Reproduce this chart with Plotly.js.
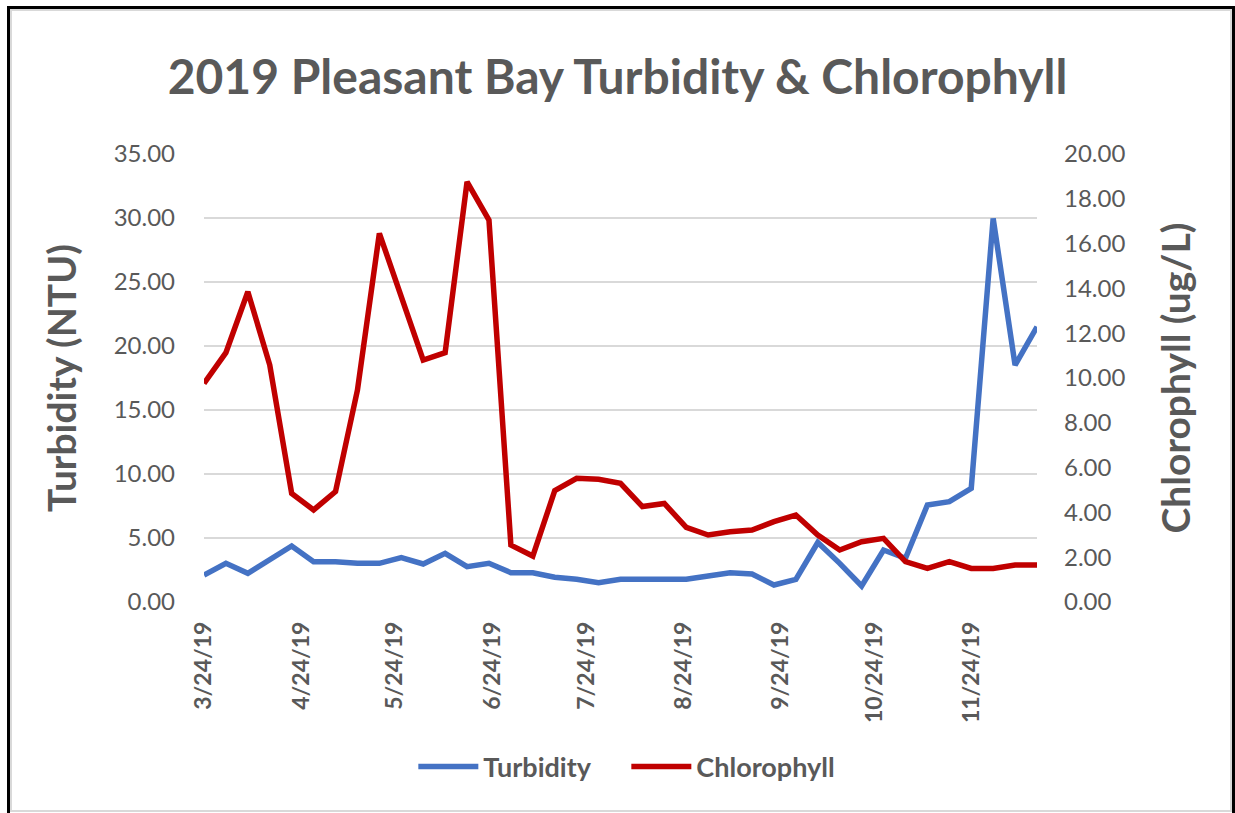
<!DOCTYPE html>
<html>
<head>
<meta charset="utf-8">
<script src="https://cdn.plot.ly/plotly-3.0.1.min.js"></script>
<style>
  html, body { margin: 0; padding: 0; background: #fff; }
  #chart { position: absolute; left: 0; top: 0; width: 1235px; height: 813px; }
  #frame { position: absolute; left: 7px; top: 6px; width: 1228px; height: 810px;
           border-left: 3px solid #000; border-top: 3px solid #000; border-right: 3px solid #000;
           box-sizing: border-box; pointer-events: none; }
  #inner { position: absolute; left: 10px; top: 9px; width: 1222px; height: 803px;
           border: 2px solid #d9d9d9; box-sizing: border-box; pointer-events: none; }
</style>
</head>
<body>
<div id="chart"></div>
<div id="inner"></div>
<div id="frame"></div>
<script>
// Weekly sampling dates, 3/24/19 through 12/15/19
const dates = [
  '2019-03-24','2019-03-31','2019-04-07','2019-04-14','2019-04-21','2019-04-28',
  '2019-05-05','2019-05-12','2019-05-19','2019-05-26','2019-06-02','2019-06-09',
  '2019-06-16','2019-06-23','2019-06-30','2019-07-07','2019-07-14','2019-07-21',
  '2019-07-28','2019-08-04','2019-08-11','2019-08-18','2019-08-25','2019-09-01',
  '2019-09-08','2019-09-15','2019-09-22','2019-09-29','2019-10-06','2019-10-13',
  '2019-10-20','2019-10-27','2019-11-03','2019-11-10','2019-11-17','2019-11-24',
  '2019-12-01','2019-12-08','2019-12-15'
];

// Turbidity (NTU), left axis
const turbidity = [
  2.11, 3.02, 2.24, 3.28, 4.38, 3.15,
  3.15, 3.02, 3.02, 3.46, 2.97, 3.80,
  2.76, 3.02, 2.29, 2.29, 1.93, 1.77,
  1.51, 1.77, 1.77, 1.77, 1.77, 2.03,
  2.29, 2.19, 1.33, 1.77, 4.65, 3.02,
  1.25, 4.06, 3.41, 7.58, 7.84, 8.88,
  29.97, 18.50, 21.50
];

// Chlorophyll (ug/L), right axis
const chlorophyll = [
  9.76, 11.13, 13.85, 10.58, 4.85, 4.11,
  4.93, 9.46, 16.46, 13.60, 10.80, 11.13,
  18.76, 17.05, 2.54, 2.05, 4.97, 5.52,
  5.48, 5.30, 4.26, 4.40, 3.33, 2.99,
  3.14, 3.21, 3.59, 3.88, 2.99, 2.32,
  2.69, 2.84, 1.80, 1.50, 1.80, 1.50,
  1.50, 1.65, 1.65
];

const tickDates = ['2019-03-24','2019-04-24','2019-05-24','2019-06-24','2019-07-24',
                   '2019-08-24','2019-09-24','2019-10-24','2019-11-24'];
const tickLabels = ['3/24/19','4/24/19','5/24/19','6/24/19','7/24/19',
                    '8/24/19','9/24/19','10/24/19','11/24/19'];
const leftTicks = [0, 5, 10, 15, 20, 25, 30, 35];
const rightTicks = [0, 2, 4, 6, 8, 10, 12, 14, 16, 18, 20];

const gray = '#595959';
const font = 'Lato, "Open Sans", sans-serif';

const traces = [
  { x: dates, y: turbidity, name: '<b>Turbidity</b>', type: 'scatter', mode: 'lines',
    line: { color: '#4472C4', width: 5.5 }, yaxis: 'y' },
  { x: dates, y: chlorophyll, name: '<b>Chlorophyll</b>', type: 'scatter', mode: 'lines',
    line: { color: '#C00000', width: 5.5 }, yaxis: 'y2' }
];

const layout = {
  width: 1235, height: 813,
  margin: { l: 204, r: 198, t: 154, b: 211 },
  paper_bgcolor: '#fff', plot_bgcolor: '#fff',
  font: { family: font, color: gray },
  title: { text: '<b>2019 Pleasant Bay Turbidity & Chlorophyll</b>',
           font: { size: 48, color: gray, family: font },
           x: 0.5, xanchor: 'center', y: 0.905, yanchor: 'middle' },
  showlegend: true,
  legend: { orientation: 'h', x: 0.507, xanchor: 'center', y: -0.368, yanchor: 'middle',
            font: { size: 27, color: gray, family: font }, itemwidth: 60,
            entrywidth: 138, entrywidthmode: 'pixels', tracegroupgap: 0 },
  xaxis: {
    type: 'date', range: ['2019-03-24', '2019-12-15'],
    tickvals: tickDates, ticktext: tickLabels.map(t => '<b>' + t + '</b>'),
    tickangle: -90, tickfont: { size: 23, color: gray, family: font },
    showgrid: false, zeroline: false, showline: false, ticks: '', ticklen: 0,
    ticklabelstandoff: 14,
    automargin: false
  },
  yaxis: {
    range: [0, 35], tickvals: leftTicks, ticktext: leftTicks.map(v => v.toFixed(2)),
    tickfont: { size: 24, color: gray, family: font },
    showgrid: true, gridcolor: '#d9d9d9', gridwidth: 2,
    zeroline: false, showline: false, ticks: '', ticklabelstandoff: 28,
    title: { text: '<b>Turbidity (NTU)</b>', font: { size: 39, color: gray, family: font }, standoff: 24 },
    automargin: false
  },
  yaxis2: {
    range: [0, 20], tickvals: rightTicks, ticktext: rightTicks.map(v => v.toFixed(2)),
    overlaying: 'y', side: 'right',
    tickfont: { size: 24, color: gray, family: font },
    showgrid: false, zeroline: false, showline: false, ticks: '', ticklabelstandoff: 26,
    title: { text: '<b>Chlorophyll (ug/L)</b>', font: { size: 39, color: gray, family: font }, standoff: 38 },
    automargin: false
  }
};

Plotly.newPlot('chart', traces, layout, { staticPlot: true, displayModeBar: false });
</script>
</body>
</html>
